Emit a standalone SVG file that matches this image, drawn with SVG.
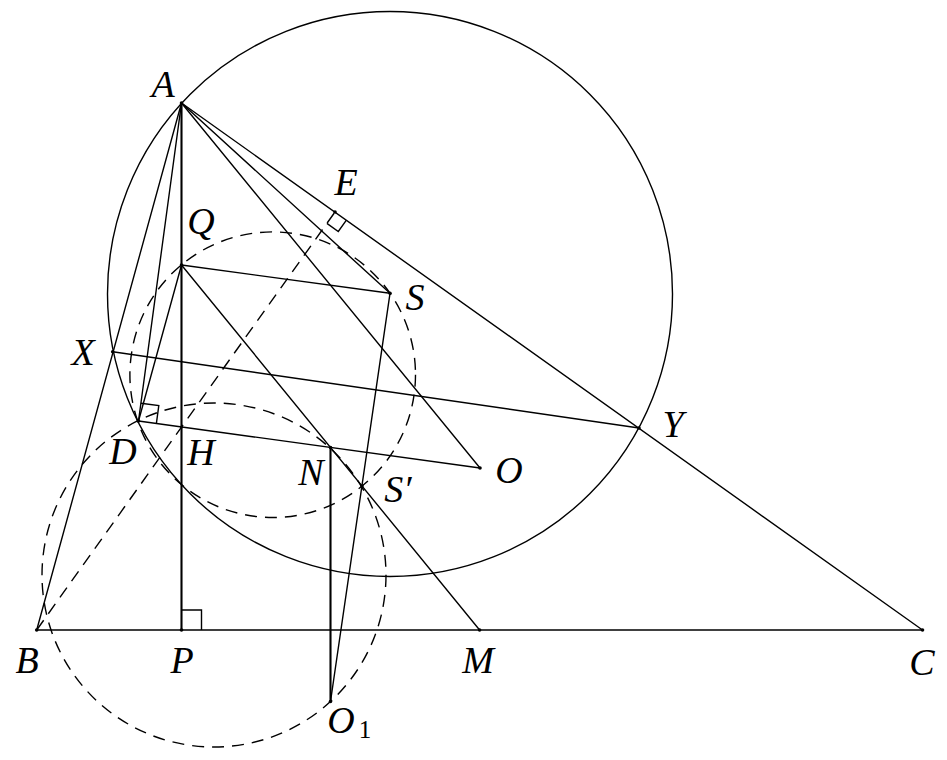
<svg xmlns="http://www.w3.org/2000/svg" width="947" height="760" viewBox="0 0 947 760">
<style>
.ln{stroke:#000;stroke-width:1.4;fill:none;stroke-linecap:round}
.thick{stroke:#000;stroke-width:2.1;fill:none}
.dash{stroke:#000;stroke-width:1.4;fill:none;stroke-dasharray:12 8}
.ra{stroke:#000;stroke-width:1.4;fill:none}
.pt{fill:#000}
text{font-family:"Liberation Serif","Times New Roman",Times,serif;font-style:italic;font-size:38px;fill:#000;text-anchor:middle}
text.sub{font-style:normal;font-size:25px}
</style>
<rect width="947" height="760" fill="#fff"/>
<g id="circles">
<circle class="ln" cx="390" cy="294" r="282.5"/>
<circle class="dash" cx="272.7" cy="374.7" r="142.8"/>
<circle class="dash" cx="214" cy="575" r="172"/>
</g>
<g id="connectors">
<line class="ln" x1="181.5" y1="103" x2="36.7" y2="630"/>
<line class="ln" x1="181.5" y1="103" x2="922.5" y2="630"/>
<line class="ln" x1="36.7" y1="630" x2="922.5" y2="630"/>
<line class="thick" x1="181.5" y1="103" x2="181.5" y2="630"/>
<line class="ln" x1="181.5" y1="103" x2="138.5" y2="421"/>
<line class="ln" x1="138.5" y1="421" x2="181.5" y2="265"/>
<line class="ln" x1="181.5" y1="103" x2="390" y2="293.3"/>
<line class="ln" x1="181.5" y1="103" x2="480" y2="468"/>
<line class="ln" x1="181.5" y1="265" x2="390" y2="293.3"/>
<line class="ln" x1="181.5" y1="265" x2="479.6" y2="630"/>
<line class="ln" x1="138.5" y1="421" x2="480" y2="468"/>
<line class="ln" x1="112.7" y1="351.7" x2="639" y2="428"/>
<line class="ln" x1="390" y1="293.3" x2="330.5" y2="701.5"/>
<line class="thick" x1="330.5" y1="447.5" x2="330.5" y2="701.5"/>
<line class="dash" x1="36.7" y1="630" x2="335" y2="212"/>
<path class="ra" d="M181.5,610 H201.5 V630"/>
<path class="ra" d="M140.9,403.2 L158.8,405.5 L156.4,423.3"/>
<path class="ra" d="M346.4,220.1 L338.3,231.5 L326.9,223.4"/>
</g>
<g id="A"><circle class="pt" cx="181.5" cy="103" r="1.8"/><text x="163" y="97">A</text></g>
<g id="E"><circle class="pt" cx="335" cy="212" r="1.8"/><text x="346" y="195">E</text></g>
<g id="Q"><circle class="pt" cx="181.5" cy="265" r="1.8"/><text x="201" y="234">Q</text></g>
<g id="S"><circle class="pt" cx="390" cy="293.3" r="1.8"/><text x="415" y="310">S</text></g>
<g id="X"><circle class="pt" cx="112.7" cy="351.7" r="1.8"/><text x="83" y="365">X</text></g>
<g id="Y"><circle class="pt" cx="639" cy="428" r="1.8"/><text x="673" y="437">Y</text></g>
<g id="D"><circle class="pt" cx="138.5" cy="421" r="1.8"/><text x="123" y="464">D</text></g>
<g id="H"><circle class="pt" cx="181.5" cy="427" r="1.5"/><text x="201" y="465">H</text></g>
<g id="N"><circle class="pt" cx="330.5" cy="447.5" r="1.8"/><text x="311" y="485">N</text></g>
<g id="O"><circle class="pt" cx="480" cy="468" r="1.8"/><text x="509" y="483">O</text></g>
<g id="Sp"><circle class="pt" cx="362" cy="486" r="1.8"/><text x="398" y="502">S′</text></g>
<g id="B"><circle class="pt" cx="36.7" cy="630" r="1.8"/><text x="27" y="673">B</text></g>
<g id="P"><circle class="pt" cx="181.5" cy="630" r="1.8"/><text x="182" y="673">P</text></g>
<g id="M"><circle class="pt" cx="479.6" cy="630" r="1.8"/><text x="478" y="673">M</text></g>
<g id="C"><circle class="pt" cx="922.5" cy="630" r="1.8"/><text x="922" y="675">C</text></g>
<g id="O1"><circle class="pt" cx="330.5" cy="701.5" r="1.8"/><text x="341" y="733">O</text><text class="sub" x="365" y="738">1</text></g>
</svg>
